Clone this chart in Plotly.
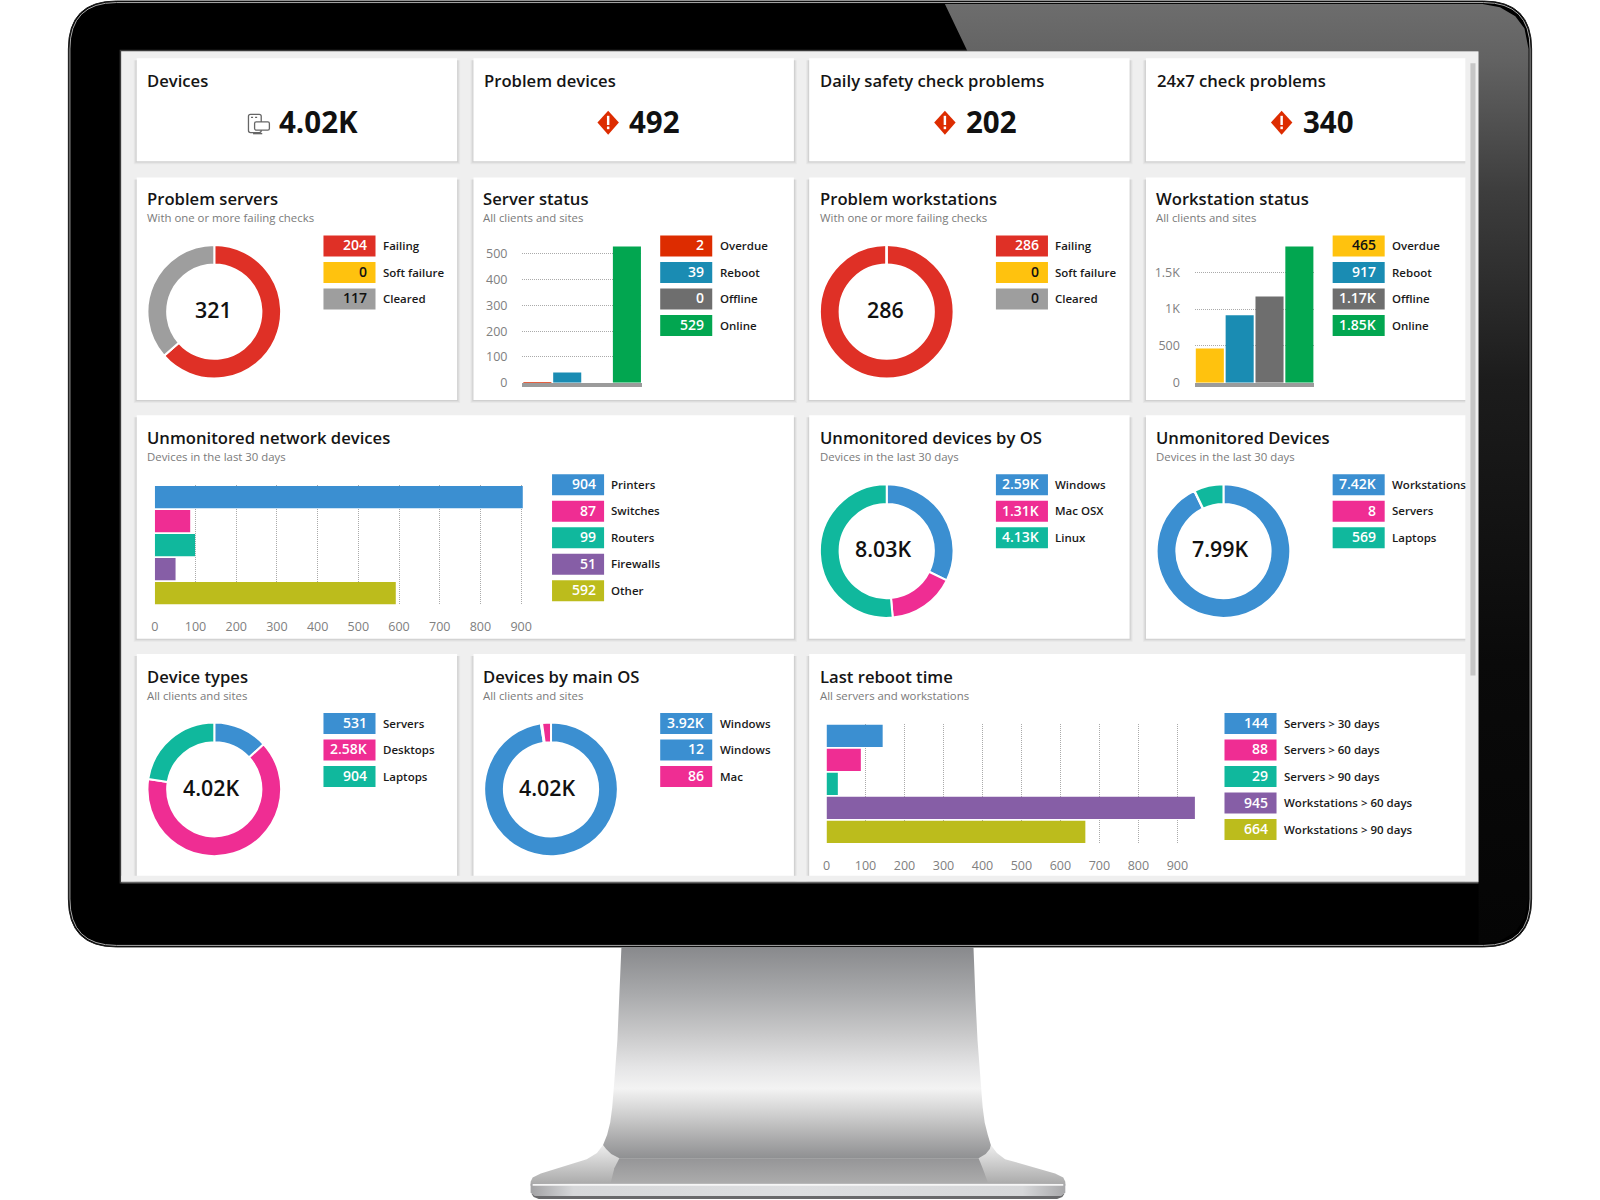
import plotly.graph_objects as go

# ---------- data ----------
RED, YELLOW, GREY = "#df3026", "#ffc20e", "#9e9e9e"
BLUE, PINK, TEAL, PURPLE, OLIVE = "#3b8fd1", "#ef2d93", "#10b89d", "#865ea6", "#bcbc1c"
OVERDUE, REBOOT, OFFLINE, ONLINE = "#dd2c00", "#1a8cb3", "#6e6e6e", "#02a650"

kpi_titles = ["Devices", "Problem devices", "Daily safety check problems", "24x7 check problems"]
kpi_values = ["4.02K", "492", "202", "340"]

problem_server_labels = ["Failing", "Soft failure", "Cleared"]
problem_server_values = [204, 0, 117]
problem_server_text = ["204", "0", "117"]

server_status_labels = ["Overdue", "Reboot", "Offline", "Online"]
server_status_values = [2, 39, 0, 529]
server_status_text = ["2", "39", "0", "529"]

problem_ws_labels = ["Failing", "Soft failure", "Cleared"]
problem_ws_values = [286, 0, 0]
problem_ws_text = ["286", "0", "0"]

ws_status_labels = ["Overdue", "Reboot", "Offline", "Online"]
ws_status_values = [465, 917, 1170, 1850]
ws_status_text = ["465", "917", "1.17K", "1.85K"]

network_labels = ["Printers", "Switches", "Routers", "Firewalls", "Other"]
network_values = [904, 87, 99, 51, 592]
network_text = ["904", "87", "99", "51", "592"]

unmon_os_labels = ["Windows", "Mac OSX", "Linux"]
unmon_os_values = [2590, 1310, 4130]
unmon_os_text = ["2.59K", "1.31K", "4.13K"]

unmon_dev_labels = ["Workstations", "Servers", "Laptops"]
unmon_dev_values = [7420, 8, 569]
unmon_dev_text = ["7.42K", "8", "569"]

device_type_labels = ["Servers", "Desktops", "Laptops"]
device_type_values = [531, 2580, 904]
device_type_text = ["531", "2.58K", "904"]

main_os_labels = ["Windows", "Windows", "Mac"]
main_os_values = [3920, 12, 86]
main_os_text = ["3.92K", "12", "86"]

reboot_labels = ["Servers > 30 days", "Servers > 60 days", "Servers > 90 days",
                 "Workstations > 60 days", "Workstations > 90 days"]
reboot_values = [144, 88, 29, 945, 664]
reboot_text = ["144", "88", "29", "945", "664"]

hundreds = [0, 100, 200, 300, 400, 500, 600, 700, 800, 900]
server_ticks = [0, 100, 200, 300, 400, 500]
ws_ticks = [0, 500, 1000, 1500]
ws_tick_text = ["0", "500", "1K", "1.5K"]

# ---------- canvas helpers (coordinates on a 1568 x 1176 drawing grid) ----------
W, H = 1568.0, 1176.0
FONT = "Open Sans"
fig = go.Figure()
shapes, notes = [], []


def rect(x0, y0, x1, y1, fill, line=None, width=0, opacity=1, layer="below"):
    shapes.append(dict(type="rect", xref="x", yref="y", x0=x0, y0=y0, x1=x1, y1=y1,
                       fillcolor=fill, opacity=opacity, layer=layer,
                       line=dict(color=line or fill, width=width)))


def rounded(x0, y0, x1, y1, r):
    return (f"M{x0 + r},{y0} L{x1 - r},{y0} Q{x1},{y0} {x1},{y0 + r} L{x1},{y1 - r} "
            f"Q{x1},{y1} {x1 - r},{y1} L{x0 + r},{y1} Q{x0},{y1} {x0},{y1 - r} "
            f"L{x0},{y0 + r} Q{x0},{y0} {x0 + r},{y0} Z")


def path(d, fill="rgba(0,0,0,0)", line="rgba(0,0,0,0)", width=0, layer="below"):
    shapes.append(dict(type="path", xref="x", yref="y", path=d, fillcolor=fill, layer=layer,
                       line=dict(color=line, width=width)))


def text(x, y, s, size, color="#111", weight=400, anchor="left"):
    notes.append(dict(xref="x", yref="y", x=x, y=y, text=s, showarrow=False, xanchor=anchor,
                      yanchor="middle", borderpad=0, align=anchor,
                      font=dict(family=FONT, size=size, color=color, weight=weight)))


def poly(xs, ys, colors=None, solid=None, kind="vertical", start=None, stop=None):
    xs = list(xs) + [xs[0]]
    ys = list(ys) + [ys[0]]
    kw = dict(fillcolor=solid) if solid else dict(
        fillgradient=dict(type=kind, colorscale=colors, start=start, stop=stop))
    fig.add_trace(go.Scatter(x=xs, y=ys, mode="lines", fill="toself", line=dict(width=0),
                             hoverinfo="skip", showlegend=False, xaxis="x", yaxis="y", **kw))


def card(x0, y0, x1, y1):
    for g, o in ((3.0, 0.03), (2.0, 0.04), (1.0, 0.06)):
        rect(x0 - g, y0 + 2, x1 + g, y1 + g, "#000000", opacity=o)
    rect(x0, y0, x1, y1, "#ffffff")


def dom_x(a, b):
    return [a / W, b / W]


def dom_y(a, b):
    return [1 - b / H, 1 - a / H]


axis_no = [1]


def new_axes(xspec, yspec):
    axis_no[0] += 1
    n = axis_no[0]
    fig.layout[f"xaxis{n}"] = dict(anchor=f"y{n}", fixedrange=True, **xspec)
    fig.layout[f"yaxis{n}"] = dict(anchor=f"x{n}", fixedrange=True, **yspec)
    return f"x{n}", f"y{n}"


def chips(x, y0, values_text, labels, colors, dark=()):
    for i, (v, l, c) in enumerate(zip(values_text, labels, colors)):
        yc = y0 + 26 * i
        rect(x, yc - 10.3, x + 51, yc + 10.3, c)
        text(x + 43.6, yc - 1, v, 14, "#111" if i in dark else "#ffffff", 600, "right")
        text(x + 57.2, yc - 0.4, l, 11.5, "#1a1a1a", 600)


def donut(cx, cy, labels, values, colors, center, cxt):
    r = 65.5
    fig.add_trace(go.Pie(labels=[f"{i} {l}" for i, l in enumerate(labels)], values=values, hole=0.705,
                         sort=False, direction="clockwise", rotation=0, textinfo="none",
                         hoverinfo="skip", showlegend=False,
                         marker=dict(colors=colors, line=dict(color="#ffffff", width=2)),
                         domain=dict(x=dom_x(cx - r, cx + r), y=dom_y(cy - r, cy + r))))
    text(cxt, cy - 2, center, 21.4, "#111", 600, "center")


TICKFONT = dict(family=FONT, size=12.5, color="#808080")
GRID = "1px,1px"


def vbars(labels, values, colors, x0, x1, ytop, ybase, rng, tickvals, ticktext=None):
    xa, ya = new_axes(
        dict(domain=dom_x(x0, x1), range=[-0.5, 3.5], showticklabels=False, showgrid=False,
             ticks="", zeroline=False, showline=True, linecolor="#9b9b9b", linewidth=3.5),
        dict(domain=dom_y(ytop, ybase), range=[0, rng], tickvals=tickvals, ticktext=ticktext,
             showgrid=True, griddash=GRID, gridcolor="#aaaaaa", gridwidth=1, zeroline=False,
             showline=False, ticks="outside", ticklen=11.5, tickcolor="rgba(0,0,0,0)", tickfont=TICKFONT))
    fig.add_trace(go.Bar(x=labels, y=values, marker=dict(color=colors, line=dict(width=0)), width=0.94,
                         hoverinfo="skip", showlegend=False, xaxis=xa, yaxis=ya))
    fig.layout[xa.replace("x", "xaxis")].update(type="category", categoryorder="array", categoryarray=labels)


def hbars(labels, values, colors, x0, x1, ytop, ybot, rng):
    xa, ya = new_axes(
        dict(domain=dom_x(x0, x1), range=[0, rng], tickvals=hundreds, showgrid=True, griddash=GRID,
             gridcolor="#aaaaaa", gridwidth=1, zeroline=False, showline=False, ticks="outside",
             ticklen=10, tickcolor="rgba(0,0,0,0)", tickfont=TICKFONT),
        dict(domain=dom_y(ytop, ybot), type="category", categoryorder="array", categoryarray=labels,
             autorange="reversed", showticklabels=False, showgrid=False, zeroline=False, ticks=""))
    fig.add_trace(go.Bar(y=labels, x=values, orientation="h", marker=dict(color=colors, line=dict(width=0)),
                         width=0.93, hoverinfo="skip", showlegend=False, xaxis=xa, yaxis=ya))


# ---------- full-canvas axes ----------
fig.add_trace(go.Scatter(x=[0], y=[0], mode="none", hoverinfo="skip", showlegend=False))

# ---------- stand ----------
poly([591, 585, 575, 530, 522, 520, 520, 1044, 1044, 1042, 1034, 985, 977, 971],
     [1122, 1130, 1136, 1150, 1154, 1158, 1162, 1162, 1158, 1154, 1150, 1136, 1130, 1122],
     [[0, "#ededed"], [1, "#a9a9a9"]], start=1122, stop=1161)
poly([609, 607, 605, 602, 600, 598, 595, 591, 594, 599, 607, 959, 966, 970, 971, 968, 965, 963, 961, 958, 956, 954],
     [928, 980, 1020, 1060, 1085, 1100, 1112, 1122, 1126, 1131, 1135, 1135, 1131, 1126, 1122, 1112, 1100, 1085,
      1060, 1020, 980, 928],
     [[0, "#88898c"], [0.218, "#a8a9ab"], [0.408, "#c8c8c9"], [0.57, "#e5e5e6"], [0.67, "#f3f3f3"],
      [0.79, "#d0d0d0"], [0.915, "#a9a9aa"], [1, "#8f9092"]], start=928, stop=1135)
poly([607, 959, 963, 969, 598, 602], [1135, 1135, 1145, 1161, 1161, 1145],
     [[0, "#959597"], [1, "#adadad"]], start=1135, stop=1161)
poly([521, 1043, 1041, 1036, 528, 523], [1170, 1170, 1173, 1175, 1175, 1173], solid="#69696b")
poly([520, 1044, 1044, 1040, 524, 520], [1160, 1160, 1169, 1172, 1172, 1169],
     [[0, "#a2a2a4"], [0.08, "#d6d7d9"], [0.5, "#dddee0"], [0.92, "#d6d7d9"], [1, "#a8a8aa"]],
     kind="horizontal", start=520, stop=1044)
poly([522, 1042, 1042, 522], [1160.4, 1160.4, 1162, 1162], solid="#f6f6f6")

# ---------- monitor ----------
path(rounded(67, 1, 1501, 928, 47), fill="#000000", line="#1a1a1a", width=1)
path(rounded(68.5, 2.5, 1499.5, 926.5, 45.5), line="#a9a9a9", width=1)
path(rounded(70, 4, 1498, 925, 44), fill="#000000")
poly([926, 1453, 1470, 1485, 1494, 1498, 1498, 1494, 1485, 1470, 1449, 1449, 948],
     [4, 4, 7, 16, 28, 48, 880, 900, 913, 922, 925, 50, 50],
     [[0, "#6d6d6d"], [0.06, "#626262"], [0.2, "#3d3d3d"], [0.4, "#1c1c1c"], [0.7, "#0a0a0a"], [1, "#050505"]],
     start=4, stop=925)
rect(118, 49.5, 1450, 865, "#efefef", line="#3a3a3a", width=1.5)

# ---------- cards ----------
COLS = [(134, 448), (464, 778), (793, 1107), (1123, 1440)]
for a, b in COLS:
    card(a, 57, b, 158)
for a, b in COLS:
    card(a, 174, b, 392)
card(134, 407, 778, 626)
for a, b in COLS[2:]:
    card(a, 407, b, 626)
card(134, 641, 448, 863)
card(464, 641, 778, 863)
card(793, 641, 1440, 863)
rect(119, 858.3, 1449, 864, "#efefef")
rect(1436, 51, 1449, 864, "#efefef")
rect(1441, 62, 1446, 662, "#c6c6c6")
rect(119, 864, 1449, 865.5, "#666666")


def card_titles(x, y, title, sub):
    text(x - 0.8, y - 0.4, title, 16.65, "#151515", 600)
    text(x - 0.8, y + 18.1, sub, 11.4, "#7a7a7a")


# KPI row
for (a, _), t in zip(COLS, kpi_titles):
    text(a + 9.5, 78.4, t, 16.65, "#151515", 600)
kpi_x = [272, 615.5, 945.5, 1275.5]
for x, v in zip(kpi_x, kpi_values):
    text(x, 119, v, 29.5, "#111", 700)
# devices icon
path(rounded(243.5, 112, 256, 130, 2), line="#666666", width=1.3)
path(rounded(249.5, 119.5, 264, 127.5, 1.5), fill="#ffffff", line="#666666", width=1.3)
path("M248,131 L257,131", line="#666666", width=1.3)
path("M246,115 L248,115 M250,115 L252,115", line="#666666", width=1.2)
# alert icons
for x in kpi_x[1:]:
    cx = x - 19.5
    path(f"M{cx},108.5 L{cx + 10.5},120 L{cx},132 L{cx - 10.5},120 Z", fill=OVERDUE)
    rect(cx - 1.2, 113.5, cx + 1.2, 122.5, "#ffffff")
    rect(cx - 1.2, 124, cx + 1.2, 126.6, "#ffffff")

# Problem servers
card_titles(144, 195, "Problem servers", "With one or more failing checks")
c = [RED, YELLOW, GREY]
donut(210, 305.5, problem_server_labels, problem_server_values, c, "321", 209)
chips(317, 241, problem_server_text, problem_server_labels, c, dark=(1, 2))

# Server status
card_titles(473.5, 195, "Server status", "All clients and sites")
c = [OVERDUE, REBOOT, OFFLINE, ONLINE]
vbars(server_status_labels, server_status_values, c, 512, 629, 241, 375, 531, server_ticks)
chips(647, 241, server_status_text, server_status_labels, c)

# Problem workstations
card_titles(803, 195, "Problem workstations", "With one or more failing checks")
c = [RED, YELLOW, GREY]
donut(869, 305.5, problem_ws_labels, problem_ws_values, c, "286", 868)
shapes.append(dict(type="line", xref="x", yref="y", x0=868.5, x1=868.5, y0=239, y1=260, layer="above",
                   line=dict(color="#ffffff", width=1.8)))
chips(976, 241, problem_ws_text, problem_ws_labels, c, dark=(1, 2))

# Workstation status
card_titles(1133, 195, "Workstation status", "All clients and sites")
c = [YELLOW, REBOOT, OFFLINE, ONLINE]
vbars(ws_status_labels, ws_status_values, c, 1171, 1288, 241, 375, 1857, ws_ticks, ws_tick_text)
chips(1306, 241, ws_status_text, ws_status_labels, c, dark=(0,))

# Unmonitored network devices
card_titles(144, 429, "Unmonitored network devices", "Devices in the last 30 days")
c = [BLUE, PINK, TEAL, PURPLE, OLIVE]
hbars(network_labels, network_values, c, 151.7, 514.7, 475.5, 593, 910)
chips(541, 475, network_text, network_labels, c)

# Unmonitored devices by OS
card_titles(803, 429, "Unmonitored devices by OS", "Devices in the last 30 days")
c = [BLUE, PINK, TEAL]
donut(869, 540, unmon_os_labels, unmon_os_values, c, "8.03K", 866)
chips(976, 475, unmon_os_text, unmon_os_labels, c)

# Unmonitored Devices
card_titles(1133, 429, "Unmonitored Devices", "Devices in the last 30 days")
donut(1199, 540, unmon_dev_labels, unmon_dev_values, c, "7.99K", 1196)
chips(1306, 475, unmon_dev_text, unmon_dev_labels, c)

# Device types
card_titles(144, 663, "Device types", "All clients and sites")
donut(210, 773.5, device_type_labels, device_type_values, c, "4.02K", 207.5)
chips(317, 709, device_type_text, device_type_labels, c)

# Devices by main OS
card_titles(473.5, 663, "Devices by main OS", "All clients and sites")
c2 = [BLUE, BLUE, PINK]
donut(540, 773.5, main_os_labels, main_os_values, c2, "4.02K", 537)
chips(647, 709, main_os_text, main_os_labels, c2)

# Last reboot time
card_titles(803, 663, "Last reboot time", "All servers and workstations")
c = [BLUE, PINK, TEAL, PURPLE, OLIVE]
hbars(reboot_labels, reboot_values, c, 810, 1172.9, 709.5, 827, 950)
chips(1200, 709, reboot_text, reboot_labels, c)

fig.update_layout(
    width=1600, height=1200, autosize=False,
    margin=dict(l=0, r=0, t=0, b=0, pad=0, autoexpand=False),
    paper_bgcolor="#ffffff", plot_bgcolor="rgba(0,0,0,0)", showlegend=False, hovermode=False,
    bargap=0.06, shapes=shapes, annotations=notes,
    font=dict(family=FONT),
    xaxis=dict(domain=[0, 1], range=[0, W], visible=False, fixedrange=True),
    yaxis=dict(domain=[0, 1], range=[H, 0], visible=False, fixedrange=True),
)
fig.write_html("out.html", config=dict(displayModeBar=False),
               post_script="document.body.style.margin='0';document.documentElement.style.overflow='hidden';")
